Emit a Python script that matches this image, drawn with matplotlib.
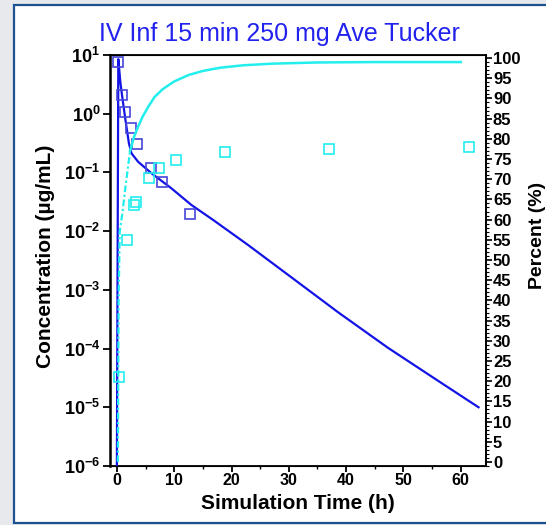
import matplotlib
matplotlib.use('Agg')
import matplotlib.pyplot as plt
from matplotlib.patches import Rectangle
from matplotlib.ticker import FixedLocator, MultipleLocator, NullLocator

plt.rcParams['font.family'] = ['Liberation Sans', 'DejaVu Sans']
plt.rcParams['mathtext.fontset'] = 'custom'
plt.rcParams['mathtext.rm'] = 'Liberation Sans:bold'
plt.rcParams['mathtext.bf'] = 'Liberation Sans:bold'

# observed concentration (left axis)
t_conc_obs = [0.23, 0.82, 1.5, 2.44, 3.55, 5.93, 7.9, 12.7]
conc_obs = [7.7, 2.08, 1.08, 0.58, 0.31, 0.12, 0.070, 0.0195]

# simulated concentration
t_conc_sim = [0, 0.25, 0.6, 0.93, 1.5, 2.1, 2.56, 3.7, 6.05, 9.5, 13.0, 16.8,
              22.9, 30.5, 38.6, 47.3, 56.1, 63.1]
conc_sim = [1e-6, 8.5, 3.5, 1.95, 0.78, 0.313, 0.211, 0.152, 0.0966, 0.0537,
            0.0279, 0.0155, 0.0058, 0.00162, 0.000415, 0.000103, 2.8e-5, 1.0e-5]

# observed percent (right axis)
t_pct_obs = [0.4, 1.8, 3.0, 3.4, 5.6, 7.3, 10.3, 18.9, 37.0, 61.5]
pct_obs = [21, 55, 63.6, 64.4, 70.4, 72.8, 74.8, 76.7, 77.5, 77.9]

# simulated percent
t_pct_early = [0.17, 0.3, 0.5, 1.0, 1.4, 2.3]
pct_early = [0, 40, 57, 62, 67, 77]
t_pct_sim = [2.3, 3.0, 3.7, 4.5, 5.5, 6.6, 8.0, 10.0, 12.5, 15.0, 18.0, 22.0,
             27.0, 35.0, 45.0, 60.0]
pct_sim = [77, 80.5, 83, 85.5, 88, 90.4, 92.3, 94.2, 95.8, 96.8, 97.6, 98.2,
           98.6, 98.9, 99, 99]

decades = [-6, -5, -4, -3, -2, -1, 0, 1]
x_ticks = [0, 10, 20, 30, 40, 50, 60]
pct_ticks = list(range(0, 101, 5))

fig = plt.figure(figsize=(5.46, 5.25), dpi=100)
fig.patch.set_facecolor('#e7e9ed')
fig.patches.append(Rectangle((14 / 546, 2 / 525), 1.2, 1 - 7 / 525,
                             transform=fig.transFigure, facecolor='white',
                             edgecolor='#1e4f8f', linewidth=1.6, zorder=-5))

ax = fig.add_axes([110 / 546, 1 - 466 / 525, 376 / 546, 411 / 525])
ax.set_yscale('log')
ax.plot(t_conc_sim, conc_sim, color='#1414e6', lw=1.6, zorder=3)
ax.plot(t_conc_obs, conc_obs, 's', mfc='none', mec='#4646dc', ms=7.5, mew=1.2, zorder=4)
ax.set_ylim(1e-6, 1e1)
ax.set_xlim(-1.2, 64.4)
ax.yaxis.set_major_locator(FixedLocator([10.0 ** d for d in decades]))
ax.yaxis.set_minor_locator(NullLocator())
ax.set_yticklabels([r'$\mathbf{10^{%d}}$' % d for d in decades], fontsize=13)
ax.set_xticks(x_ticks)
ax.set_xticklabels([str(v) for v in x_ticks], fontsize=11.5, fontweight='bold')
ax.xaxis.set_minor_locator(MultipleLocator(5))
ax.tick_params(axis='y', which='major', direction='out', length=5, width=1.3, pad=2)
ax.tick_params(axis='x', which='major', direction='out', length=4, width=1.3, pad=1)
ax.tick_params(axis='x', which='minor', direction='out', length=2.5, width=1)
ax.set_xlabel('Simulation Time (h)', fontsize=15, fontweight='bold')
ax.set_ylabel('Concentration (µg/mL)', fontsize=15, fontweight='bold')
ax.xaxis.set_label_coords(0.5, -0.068)
ax.yaxis.set_label_coords(-0.145, 0.51)
for s in ax.spines.values():
    s.set_linewidth(1.3)
ax.spines['left'].set_linewidth(1.8)

ax2 = ax.twinx()
ax2.plot(t_pct_early, pct_early, color='#22eeee', lw=1.6, ls=(0, (3, 1.2, 1, 1.2)), zorder=3)
ax2.plot(t_pct_sim, pct_sim, color='#22eeee', lw=1.8, zorder=3)
ax2.plot(t_pct_obs, pct_obs, 's', mfc='none', mec='#22eeee', ms=7.5, mew=1.2, zorder=4)
ax2.set_ylim(-1, 100.75)
ax2.set_yticks(pct_ticks)
ax2.set_yticklabels([str(v) for v in pct_ticks], fontsize=12, fontweight='bold')
ax2.yaxis.set_minor_locator(MultipleLocator(1))
ax2.tick_params(axis='y', which='major', direction='out', length=4, width=1.2, pad=1)
ax2.tick_params(axis='y', which='minor', direction='out', length=2, width=0.8)
ax2.spines['right'].set_linewidth(1.3)

fig.text(279 / 546, 1 - 34 / 525, 'IV Inf 15 min 250 mg Ave Tucker',
         color='#2222ee', fontsize=18, ha='center', va='center')
fig.text(537 / 546, 1 - 235 / 525, 'Percent (%)', fontsize=14, fontweight='bold',
         rotation=90, ha='center', va='center')

fig.savefig('out.png', dpi=100, facecolor=fig.get_facecolor())
